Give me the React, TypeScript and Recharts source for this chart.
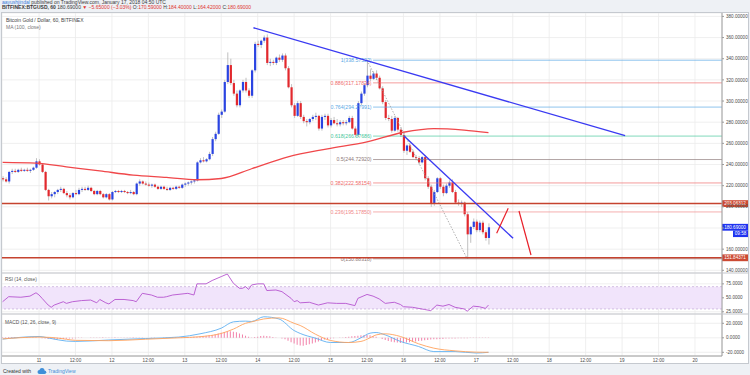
import React from 'react';
import {
  ComposedChart,
  Bar,
  Line,
  XAxis,
  YAxis,
  CartesianGrid,
  ReferenceLine,
  ReferenceArea,
} from 'recharts';

const FONT = '"Liberation Sans", Arial, sans-serif';

// time axis: hours counted from Jan 11 00:00, one candle per hour
const START_HOUR = -12;
const X_DOMAIN: [number, number] = [-12.2, 224.9];
const timeTicks = [0, 12, 24, 36, 48, 60, 72, 84, 96, 108, 120, 132, 144, 156, 168, 180, 192, 204, 216];
const timeLabels = ['11', '12:00', '12', '12:00', '13', '12:00', '14', '12:00', '15', '12:00', '16', '12:00', '17', '12:00', '18', '12:00', '19', '12:00', '20'];

// [open, high, low, close] BTG/USD hourly
const candles: [number, number, number, number][] = [
  [227, 229, 224, 226], [226, 228, 223, 224], [224, 234, 222, 233], [233, 236, 231, 234],
  [234, 236, 232, 233], [233, 236, 232, 235], [235, 237, 233, 234], [234, 236, 233, 235],
  [235, 237, 233, 234], [234, 236, 232, 235], [235, 238, 234, 237], [237, 246, 236, 243],
  [243, 245, 239, 240], [240, 241, 232, 233],
  [233, 234, 215, 216], [216, 217, 206, 210], [210, 214, 208, 212], [212, 215, 209, 214],
  [214, 217, 212, 216], [216, 219, 214, 217], [217, 218, 212, 213], [213, 215, 209, 211],
  [211, 213, 207, 209], [209, 214, 208, 213], [213, 216, 211, 212], [212, 218, 211, 216],
  [216, 219, 214, 217], [217, 219, 215, 216], [216, 220, 215, 218], [218, 219, 214, 215],
  [215, 216, 211, 212], [212, 216, 211, 215], [215, 216, 211, 212], [212, 213, 208, 209],
  [209, 213, 208, 212], [212, 213, 206, 207], [207, 215, 206, 214], [214, 216, 213, 215],
  [215, 216, 213, 214], [214, 216, 213, 215], [215, 216, 213, 214], [214, 215, 212, 213],
  [213, 216, 212, 214], [214, 215, 211, 212], [212, 223, 211, 222],
  [222, 226, 220, 224], [224, 225, 221, 222], [222, 224, 220, 221], [221, 223, 219, 220],
  [220, 222, 218, 221], [221, 222, 218, 219], [219, 220, 216, 217], [217, 220, 216, 219],
  [219, 220, 216, 217], [217, 219, 215, 216], [216, 219, 215, 218], [218, 219, 216, 217],
  [217, 220, 216, 219], [219, 220, 217, 218], [218, 222, 217, 221], [221, 223, 219, 222],
  [222, 224, 220, 223], [223, 225, 221, 224], [224, 226, 222, 225],
  [225, 243, 224, 242], [242, 246, 241, 244], [244, 247, 242, 243], [243, 246, 242, 245],
  [245, 252, 244, 250], [250, 266, 248, 264], [264, 271, 262, 269], [269, 289, 268, 287],
  [287, 292, 284, 290], [290, 320, 289, 318], [318, 346, 316, 334], [334, 340, 315, 317],
  [317, 320, 305, 307], [307, 310, 294, 296], [296, 311, 294, 310], [310, 320, 308, 318],
  [318, 322, 308, 310], [310, 312, 303, 305], [305, 330, 303, 329], [329, 356, 327, 354],
  [354, 357, 351, 353], [353, 358, 350, 357], [357, 362, 355, 360], [360, 363, 334, 336],
  [336, 340, 333, 337], [337, 339, 334, 336], [336, 342, 334, 341], [341, 344, 337, 339],
  [339, 345, 337, 343], [343, 345, 329, 331], [331, 333, 312, 313], [313, 316, 294, 296],
  [296, 298, 284, 286], [286, 300, 285, 298], [298, 300, 283, 285], [285, 287, 279, 281],
  [281, 283, 276, 280], [280, 284, 278, 283], [283, 287, 281, 285], [285, 289, 282, 286],
  [286, 287, 272, 274], [274, 287, 272, 285], [285, 288, 282, 286], [286, 288, 275, 277],
  [277, 284, 275, 282], [282, 285, 278, 279], [279, 283, 276, 278], [278, 282, 276, 280],
  [280, 282, 277, 279], [279, 282, 277, 280], [280, 286, 279, 284], [284, 286, 273, 274],
  [274, 276, 266, 268], [268, 300, 266, 298], [298, 309, 296, 307], [307, 317, 305, 315],
  [315, 338.57, 313, 324], [324, 330, 319, 321], [321, 328, 320, 326], [326, 329, 320, 322],
  [322, 324, 311, 312], [312, 314, 297, 299], [299, 301, 282, 284], [284, 287, 281, 283],
  [283, 286, 270, 272], [272, 286, 271, 284], [284, 285, 271, 273], [273, 275, 266, 268],
  [268, 270, 251, 253], [253, 259, 249, 258], [258, 260, 251, 252], [252, 254, 246, 247],
  [247, 249, 244, 246], [246, 248, 240, 242], [242, 248, 241, 247], [247, 249, 225, 227],
  [227, 229, 217, 219], [219, 221, 200, 203], [203, 216, 201, 214], [214, 228, 213, 227],
  [227, 228, 217, 219], [219, 221, 210, 213], [213, 222, 212, 220], [220, 225, 218, 223],
  [223, 226, 213, 214], [214, 216, 203, 204], [204, 207, 201, 203], [203, 206, 200, 204],
  [204, 205, 191, 193], [193, 195, 150.88, 174], [174, 182, 166, 181], [181, 189, 179, 186],
  [186, 188, 176, 178], [178, 187, 176, 185], [185, 187, 174, 176], [176, 178, 168, 170.59],
  [170.59, 184.4, 164.42, 180.69],
];

// MA(100, close): [hour, value]
const maPoints: [number, number][] = [
  [-12, 242], [-1, 241.3], [9, 237.8], [20, 234], [31, 230], [42, 227.8], [52, 225.6],
  [60, 226.8], [70, 236], [82, 247.3], [95, 254.8], [108, 261.4], [120, 270.5],
  [130, 274], [140, 272.6], [148, 270.2],
];

// RSI(14): [hour, value]
const rsiPoints: [number, number][] = [
  [-12, 43], [-10, 52], [-6, 51], [-3, 53], [-1, 59], [0, 55], [1, 49], [3, 37], [4, 33],
  [5, 37], [8, 43], [9, 40], [11, 43], [14, 45], [17, 46], [19, 41], [20, 47], [22, 41],
  [23, 39], [25, 47], [28, 47], [31, 45], [32, 43], [34, 58], [37, 55], [39, 51], [41, 51],
  [42, 52], [44, 55], [49, 58], [51, 55], [52, 75], [55, 75], [57, 81], [60, 88], [62, 92.7],
  [64, 76], [66, 67], [67, 67], [68, 70], [69, 65], [70, 73], [72, 75], [74, 75], [75, 63],
  [78, 64], [80, 61], [83, 49], [84, 43], [85, 45], [86, 41], [89, 42], [92, 37], [95, 41],
  [98, 40], [101, 40], [104, 36], [105, 49], [108, 56], [110, 53], [112, 48], [114, 40],
  [117, 42], [119, 38], [120, 34], [123, 33], [127, 29], [129, 27], [131, 37], [133, 35],
  [135, 38], [137, 33], [140, 30], [141, 26], [143, 35], [145, 34], [147, 31], [148, 37],
];

// MACD(12, 26, 9): [hour, macd, signal]
const macdPoints: [number, number, number][] = [
  [-12, -1.8, -1.5], [0, 1.8, 1], [4, -1, 0.5], [9, -4.5, -2], [12, -5, -3.5], [23, -3, -4],
  [35, -1, -2], [46, 1, 0], [53, 5.5, 1.5], [60, 13.3, 6], [64, 22, 12], [68, 23, 20],
  [70, 22.5, 22], [74, 29, 26], [79, 26, 27.5], [84, 10, 20], [86, 6, 17], [91, -0.5, 5],
  [96, -6.5, -3.7], [102, -6.5, -6.5], [106, 0, -5], [109, 6.4, 0], [111, 7.3, 4],
  [114, 4, 5.5], [119, -5, 1.8], [125, -12, -8.3], [130, -19, -14.3], [137, -19, -18],
  [144, -21, -19.8], [148, -20, -20],
];

// MACD histogram, one value per candle
const histValues: number[] = [
  0.6, 0.8, 1, 1.2, 1, 0.8, 1, 1.2, 1, 0.8, 0.6, 0.8, 0.5,
  -0.5, -1, -1.5, -1.8, -2, -2, -1.8, -1.5, -1.2, -1,
  -0.8, -0.6, -0.4, -0.2, 0, 0.2, 0.3, 0.4, 0.5, 0.5, 0.6, 0.5, 0.4, 0.5, 0.6, 0.5, 0.4, 0.3,
  0.4, 0.5, 0.6, 0.5, 0.4, 0.3, 0.2, 0.2, 0.3, 0.3, 0.2, 0.2, 0.3, 0.4, 0.5, 0.6, 0.7,
  0.8, 0.9, 1, 1.1, 1.2, 1.4, 1.6,
  2, 2.5, 3, 3.5, 4, 5, 6, 7, 8, 9,
  9, 8.5, 7.5, 6, 4.5, 3,
  1.5, 0.5, 1, 1.5,
  2.5, 3, 2.5, 2, 1,
  0.5, 0, -1,
  -2, -4, -6, -8, -9.5, -10.5, -11, -10, -9, -8,
  -6.5, -5, -3.5, -2.5, -1.5,
  -1, -0.5, 0, 0.5, 0.5, 1, 1.5,
  2, 2.5, 3, 3.5, 4, 4, 3.5, 2.5,
  1.5, 0, -1.5, -3, -4.5,
  -5.5, -6, -6.5, -7, -7, -6.5, -6, -5.5, -5, -4.5,
  -4, -3.5, -3, -2.5, -2, -2, -1.5, -1.5, -1, -1,
  -1, -1, -0.5, -0.5, -0.5, -0.5, -0.3, -0.3, -0.3, -0.2, -0.2, -0.2, -0.2,
];

// fibonacci retracement drawn from the 338.57 high to the 150.88 low
const fibRatios = ['1', '0.886', '0.764', '0.618', '0.5', '0.382', '0.236', '0'];
const fibPrices = [338.57523, 317.17834, 294.27991, 266.87686, 244.7292, 222.58154, 195.1785, 150.88318];
const fibColors = ['#5aa9e6', '#ef6b6b', '#5aa9e6', '#45c79b', '#8d7a7a', '#ef6b6b', '#f08787', '#8d7a7a'];
const FIB_START = 110;
const fibHigh = { hour: 108, price: 338.57523 };
const fibLow = { hour: 141, price: 150.88318 };

// horizontal support / resistance
const levels = [203.06312, 151.84371];
const lastPrice = 180.69;

// trend lines: [hour1, price1, hour2, price2]
const blueLines: [number, number, number, number][] = [
  [70.6, 369.3, 193, 267.3],
  [120.2, 267, 156.1, 170.3],
];
const redLines: [number, number, number, number][] = [
  [150.7, 175, 154.5, 198.6],
  [158.05, 196.1, 162, 154.5],
];

const priceTicks = [140, 160, 180, 200, 220, 240, 260, 280, 300, 320, 340, 360, 380];
const PRICE_DOMAIN: [number, number] = [137.47, 383.21];
const RSI_DOMAIN: [number, number] = [20.97, 94.44];
const MACD_DOMAIN: [number, number] = [-25.1, 32.83];

const candleRows = candles.map((c, i) => ({
  hour: START_HOUR + i,
  open: c[0],
  high: c[1],
  low: c[2],
  close: c[3],
  range: [c[2], c[1]],
}));
const maRows = maPoints.map(([hour, ma]) => ({ hour, ma }));
const rsiRows = rsiPoints.map(([hour, rsi]) => ({ hour, rsi }));
const macdRows = macdPoints.map(([hour, macd, signal]) => ({ hour, macd, signal }));
const histRows = histValues.map((hist, i) => ({ hour: START_HOUR + i, hist }));

const UP = '#2a44e2';
const DOWN = '#e2282d';
const GRID = '#ebebeb';
const AXIS = '#9c9c9c';
const TICK = { fontSize: 4.6, fill: '#4a4a4a', fontFamily: FONT };
const M = { top: 0, right: 0, bottom: 0, left: 0 };

const Candle = (props: any) => {
  const { x, y, width, height, payload } = props;
  if (!payload) return null;
  const top = Math.min(y, y + height);
  const h = Math.abs(height);
  const span = payload.high - payload.low || 1;
  const py = (v: number) => top + ((payload.high - v) / span) * h;
  const cx = x + width / 2;
  const up = payload.close >= payload.open;
  const b1 = py(Math.max(payload.open, payload.close));
  const b2 = py(Math.min(payload.open, payload.close));
  return (
    <g>
      <line x1={cx} x2={cx} y1={top} y2={top + h} stroke="#a6a6a6" strokeWidth={0.7} />
      <rect x={cx - 1.1} y={b1} width={2.2} height={Math.max(b2 - b1, 0.8)} fill={up ? UP : DOWN} />
    </g>
  );
};

// price axis tick; the label under the last-price tag is covered in the original
const PriceTick = (props: any) => {
  const { x, y, payload } = props;
  if (Math.abs(payload.value - lastPrice) < 2) return null;
  return (
    <text x={x} y={y} dy="0.355em" fontSize={4.6} fill="#4a4a4a" fontFamily={FONT}>
      {Number(payload.value).toFixed(5)}
    </text>
  );
};

const fibLabel = (text: string, color: string) => (props: any) => {
  const vb = props.viewBox || { x: 0, y: 0 };
  return (
    <text x={vb.x - 1.5} y={vb.y + 1.8} textAnchor="end" fontSize={5.2} fill={color} fontFamily={FONT}>
      {text}
    </text>
  );
};

const axisTag = (text: string, bg: string, extra?: string) => (props: any) => {
  const vb = props.viewBox || { x: 0, y: 0, width: 0 };
  const x = vb.x + vb.width;
  const y = vb.y;
  return (
    <g>
      <rect x={x} y={y - 3.4} width={26} height={6.8} fill={bg} />
      <text x={x + 13} y={y + 1.7} textAnchor="middle" fontSize={4.6} fill="#fff" fontFamily={FONT}>
        {text}
      </text>
      {extra && (
        <g>
          <rect x={x + 11} y={y + 3.4} width={15} height={6.4} fill={bg} />
          <text x={x + 18.5} y={y + 8.2} textAnchor="middle" fontSize={4.6} fill="#fff" fontFamily={FONT}>
            {extra}
          </text>
        </g>
      )}
    </g>
  );
};

const xLabel = (v: number) => timeLabels[timeTicks.indexOf(v)] ?? '';

const PriceChart = () => (
  <ComposedChart width={746} height={260} data={candleRows} margin={M}>
    <CartesianGrid stroke={GRID} strokeWidth={0.8} />
    <XAxis dataKey="hour" type="number" domain={X_DOMAIN} ticks={timeTicks} allowDataOverflow hide />
    <YAxis
      orientation="right"
      width={26}
      domain={PRICE_DOMAIN}
      ticks={priceTicks}
      interval={0}
      allowDataOverflow
      tick={<PriceTick />}
      tickSize={2}
      tickMargin={2}
      axisLine={{ stroke: AXIS }}
      tickLine={{ stroke: AXIS }}
    />
    {fibPrices.map((p, i) => (
      <ReferenceLine
        key={'fib' + i}
        segment={[{ x: FIB_START, y: p }, { x: X_DOMAIN[1], y: p }]}
        stroke={fibColors[i]}
        strokeOpacity={0.75}
        strokeWidth={0.9}
        ifOverflow="visible"
        label={fibLabel(`${fibRatios[i]}(${p.toFixed(5)})`, fibColors[i])}
      />
    ))}
    <Line
      data={maRows}
      dataKey="ma"
      type="monotone"
      stroke="#f0474a"
      strokeWidth={1.3}
      dot={false}
      isAnimationActive={false}
    />
    <Bar dataKey="range" shape={Candle} barSize={2} isAnimationActive={false} />
    <ReferenceLine
      segment={[{ x: fibHigh.hour, y: fibHigh.price }, { x: fibLow.hour, y: fibLow.price }]}
      stroke="#9a9a9a"
      strokeDasharray="1.5 1.5"
      strokeWidth={0.8}
      ifOverflow="visible"
    />
    {levels.map((p) => (
      <ReferenceLine
        key={'lvl' + p}
        y={p}
        stroke="#c5432f"
        strokeWidth={1.5}
        label={axisTag(p.toFixed(5), '#cc4a33')}
      />
    ))}
    {blueLines.map((l, i) => (
      <ReferenceLine
        key={'bl' + i}
        segment={[{ x: l[0], y: l[1] }, { x: l[2], y: l[3] }]}
        stroke="#3a3af2"
        strokeWidth={1.4}
        ifOverflow="visible"
      />
    ))}
    {redLines.map((l, i) => (
      <ReferenceLine
        key={'rl' + i}
        segment={[{ x: l[0], y: l[1] }, { x: l[2], y: l[3] }]}
        stroke="#e8202a"
        strokeWidth={1.2}
        ifOverflow="visible"
      />
    ))}
    <ReferenceLine y={lastPrice} strokeOpacity={0} label={axisTag(lastPrice.toFixed(5), '#1f33f0', '09:58')} />
  </ComposedChart>
);

const RsiChart = () => (
  <ComposedChart width={746} height={41} data={rsiRows} margin={M}>
    <CartesianGrid stroke={GRID} strokeWidth={0.8} />
    <XAxis dataKey="hour" type="number" domain={X_DOMAIN} ticks={timeTicks} allowDataOverflow hide />
    <YAxis
      orientation="right"
      width={26}
      domain={RSI_DOMAIN}
      ticks={[25, 50, 75]}
      interval={0}
      allowDataOverflow
      tickFormatter={(v: number) => v.toFixed(4)}
      tick={TICK}
      tickSize={2}
      tickMargin={2}
      axisLine={{ stroke: AXIS }}
      tickLine={{ stroke: AXIS }}
    />
    <ReferenceArea y1={30} y2={70} fill="#f1e4fb" fillOpacity={1} stroke="none" />
    <ReferenceLine y={70} stroke="#c9b2dc" strokeDasharray="2 2" strokeWidth={0.8} />
    <ReferenceLine y={30} stroke="#c9b2dc" strokeDasharray="2 2" strokeWidth={0.8} />
    <Line dataKey="rsi" type="linear" stroke="#b553cf" strokeWidth={0.9} dot={false} isAnimationActive={false} />
  </ComposedChart>
);

const MacdChart = () => (
  <ComposedChart width={746} height={49} data={histRows} margin={M}>
    <CartesianGrid stroke={GRID} strokeWidth={0.8} />
    <XAxis
      dataKey="hour"
      type="number"
      domain={X_DOMAIN}
      ticks={timeTicks}
      allowDataOverflow
      interval={0}
      height={7}
      tickFormatter={xLabel}
      tick={TICK}
      tickLine={false}
      tickSize={0}
      tickMargin={3}
      axisLine={{ stroke: AXIS }}
    />
    <YAxis
      orientation="right"
      width={26}
      domain={MACD_DOMAIN}
      ticks={[-20, 0, 20]}
      interval={0}
      allowDataOverflow
      tickFormatter={(v: number) => v.toFixed(4)}
      tick={TICK}
      tickSize={2}
      tickMargin={2}
      axisLine={{ stroke: AXIS }}
      tickLine={{ stroke: AXIS }}
    />
    <Bar dataKey="hist" fill="#f06c9b" fillOpacity={0.85} barSize={1} isAnimationActive={false} />
    <Line data={macdRows} dataKey="macd" type="monotone" stroke="#5fb0f2" strokeWidth={0.9} dot={false} isAnimationActive={false} />
    <Line data={macdRows} dataKey="signal" type="monotone" stroke="#ffa35e" strokeWidth={0.9} dot={false} isAnimationActive={false} />
  </ComposedChart>
);

export default function App() {
  const red = '#e0332f';
  const dark = '#3a3a3a';
  return (
    <div
      style={{
        position: 'absolute',
        left: 0,
        top: 0,
        width: 750,
        height: 375,
        background: '#eef1f5',
        fontFamily: FONT,
        overflow: 'hidden',
      }}
    >
      <svg width={750} height={375} style={{ position: 'absolute', left: 0, top: 0 }}>
        <text x={2} y={3.8} fontSize={5} fontFamily={FONT} fill={dark}>
          <tspan fill="#3b7dd8">aayushjindal</tspan> published on TradingView.com, January 17, 2018 04:50 UTC
        </text>
        <text x={2} y={9.4} fontSize={5} fontFamily={FONT} fill={dark}>
          <tspan fontWeight="bold">BITFINEX:BTGUSD, 60</tspan>
          <tspan> 180.69000 </tspan>
          <tspan fill={red}>▼ −5.65000 (−3.03%)</tspan>
          <tspan> O:</tspan><tspan fill={red}>170.59000</tspan>
          <tspan> H:</tspan><tspan fill={red}>184.40000</tspan>
          <tspan> L:</tspan><tspan fill={red}>164.42000</tspan>
          <tspan> C:</tspan><tspan fill={red}>180.69000</tspan>
        </text>
        <text x={3} y={373.4} fontSize={5} fontFamily={FONT} fill="#333">Created with</text>
        <g fill="#3f8fd9">
          <circle cx={39.5} cy={372} r={2} />
          <circle cx={42} cy={370.6} r={2.5} />
          <circle cx={44.5} cy={372.2} r={1.8} />
          <rect x={39.5} y={372} width={5} height={2} />
        </g>
        <text x={48} y={373.4} fontSize={5} fontFamily={FONT} fill="#3f8fd9">TradingView</text>
      </svg>
      <div
        style={{
          position: 'absolute',
          left: 2,
          top: 13,
          width: 746,
          height: 350,
          background: '#fff',
          outline: '1px solid #c5c9cf',
        }}
      >
        <div style={{ position: 'absolute', left: 0, top: 0 }}>
          <PriceChart />
        </div>
        <div style={{ position: 'absolute', left: 0, top: 260 }}>
          <RsiChart />
        </div>
        <div style={{ position: 'absolute', left: 0, top: 301 }}>
          <MacdChart />
        </div>
      </div>
      <svg width={750} height={375} style={{ position: 'absolute', left: 0, top: 0, pointerEvents: 'none' }}>
        <line x1={2} x2={748} y1={273} y2={273} stroke="#c3c6cc" strokeWidth={1.2} />
        <line x1={2} x2={748} y1={314} y2={314} stroke="#c3c6cc" strokeWidth={1.2} />
        <text x={6} y={22.3} fontSize={5} fontFamily={FONT} fill="#444">Bitcoin Gold / Dollar, 60, BITFINEX</text>
        <text x={6} y={29} fontSize={5} fontFamily={FONT} fill="#777">MA (100, close)</text>
        <text x={5} y={281} fontSize={4.8} fontFamily={FONT} fill="#555">RSI (14, close)</text>
        <text x={5} y={323.5} fontSize={4.8} fontFamily={FONT} fill="#555">MACD (12, 26, close, 9)</text>
      </svg>
    </div>
  );
}
